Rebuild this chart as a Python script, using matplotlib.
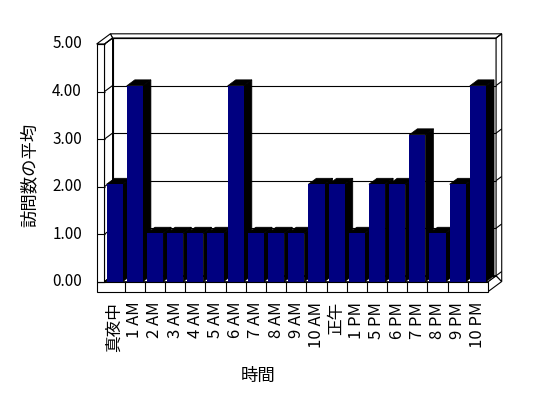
import matplotlib
matplotlib.use('Agg')
import matplotlib.pyplot as plt
from matplotlib.patches import Polygon, Rectangle

plt.rcParams['font.family'] = ['Noto Sans CJK JP', 'DejaVu Sans']

# データ (時間帯ごとの訪問数の平均)
HOURS = ['真夜中', '1 AM', '2 AM', '3 AM', '4 AM', '5 AM', '6 AM', '7 AM',
         '8 AM', '9 AM', '10 AM', '正午', '1 PM', '5 PM', '6 PM', '7 PM',
         '8 PM', '9 PM', '10 PM']
VISITS = [2.05, 4.12, 1.02, 1.02, 1.02, 1.02, 4.12, 1.02, 1.02, 1.02,
          2.05, 2.05, 1.02, 2.05, 2.05, 3.09, 1.02, 2.05, 4.12]
Y_TICKS = [0, 1, 2, 3, 4, 5]
Y_LABEL = '訪問数の平均'
X_LABEL = '時間'

NAVY = '#000080'
DX, DY = 0.40, 0.126   # 奥行き 1 段分 (データ単位)
BACK = 1.7             # 後壁の外側までの奥行き
WALL = 0.39            # 左壁の厚さ
FLOOR = 0.21           # 床の厚さ
LW = 0.8


def poly(ax, pts, fc='white', ec='black', lw=LW, z=1):
    ax.add_patch(Polygon(pts, closed=True, facecolor=fc, edgecolor=ec,
                         linewidth=lw, zorder=z, clip_on=False))


def line(ax, x, y, z=2):
    ax.plot(x, y, color='black', linewidth=LW, zorder=z, clip_on=False,
            solid_capstyle='butt')


W, H = 548, 398
fig = plt.figure(figsize=(W / 100, H / 100), dpi=100)
ax = fig.add_axes([104.5 / W, (H - 281.7) / H, (488 - 104.5) / W, (281.7 - 44) / H])
n = len(HOURS)
x0, x1 = -0.5, n - 0.5
ymax = Y_TICKS[-1]
ax.set_xlim(x0, x1)
ax.set_ylim(0, ymax)
ax.set_axis_off()

# 後壁 (内側の面)
poly(ax, [(x0 + DX, DY), (x1 + DX, DY), (x1 + DX, ymax + DY), (x0 + DX, ymax + DY)], z=1)
# 後壁の上面
poly(ax, [(x0 + DX, ymax + DY), (x1 + DX, ymax + DY),
          (x1 + BACK * DX, ymax + BACK * DY), (x0 - WALL + BACK * DX, ymax + BACK * DY)], z=1)
# 右側面 (床と後壁)
poly(ax, [(x1, -FLOOR), (x1, 0), (x1 + DX, DY), (x1 + BACK * DX, -FLOOR + BACK * DY)], z=1)
poly(ax, [(x1 + DX, DY), (x1 + DX, ymax + DY), (x1 + BACK * DX, ymax + BACK * DY),
          (x1 + BACK * DX, -FLOOR + BACK * DY)], z=1)
# 左壁 (内側の面と上面)
poly(ax, [(x0, 0), (x0, ymax), (x0 + DX, ymax + DY), (x0 + DX, DY)], z=1)
poly(ax, [(x0 - WALL, ymax), (x0, ymax), (x0 + DX, ymax + DY),
          (x0 - WALL + BACK * DX, ymax + BACK * DY)], z=1)
# 床の上面
poly(ax, [(x0, 0), (x1, 0), (x1 + DX, DY), (x0 + DX, DY)], z=1)

# 目盛線
for v in Y_TICKS:
    line(ax, [x0 + DX, x1 + DX], [v + DY, v + DY])
    line(ax, [x0, x0 + DX], [v, v + DY])
    line(ax, [x1 + DX, x1 + BACK * DX], [v + DY, v + BACK * DY])

# 棒 (側面・上面を先に、前面を後に)
bw = 0.8
for i, v in enumerate(VISITS):
    l, r = i - bw / 2, i + bw / 2
    poly(ax, [(r, 0), (r, v), (r + DX, v + DY), (r + DX, DY)], fc='black', lw=0.5, z=3)
    poly(ax, [(l, v), (r, v), (r + DX, v + DY), (l + DX, v + DY)], fc='black', lw=0.5, z=3)
for i, v in enumerate(VISITS):
    ax.add_patch(Rectangle((i - bw / 2, 0), bw, v, facecolor=NAVY,
                           edgecolor='none', zorder=4, clip_on=False))

# 床と左壁の前面
ax.add_patch(Rectangle((x0 - WALL, -FLOOR), x1 - x0 + WALL, FLOOR, facecolor='white',
                       edgecolor='black', linewidth=LW, zorder=5, clip_on=False))
for k in range(1, n):
    line(ax, [x0 + k, x0 + k], [-FLOOR, 0], z=6)
ax.add_patch(Rectangle((x0 - WALL, 0), WALL, ymax, facecolor='white',
                       edgecolor='black', linewidth=LW, zorder=5, clip_on=False))
for v in Y_TICKS:
    line(ax, [x0 - WALL, x0], [v, v], z=6)

# 軸ラベル
for v in Y_TICKS:
    ax.text(x0 - 1.115, v, f'{v:.2f}', ha='right', va='center', fontsize=11)
for i, lab in enumerate(HOURS):
    ax.text(i, -0.42, lab, rotation=90, ha='center', va='top', fontsize=12)

fig.text(30 / W, 1 - 175 / H, Y_LABEL, rotation=90, ha='center', va='center', fontsize=12.5)
fig.text(258 / W, 1 - 376 / H, X_LABEL, ha='center', va='center', fontsize=12.5)

fig.savefig('out.png', dpi=100)
